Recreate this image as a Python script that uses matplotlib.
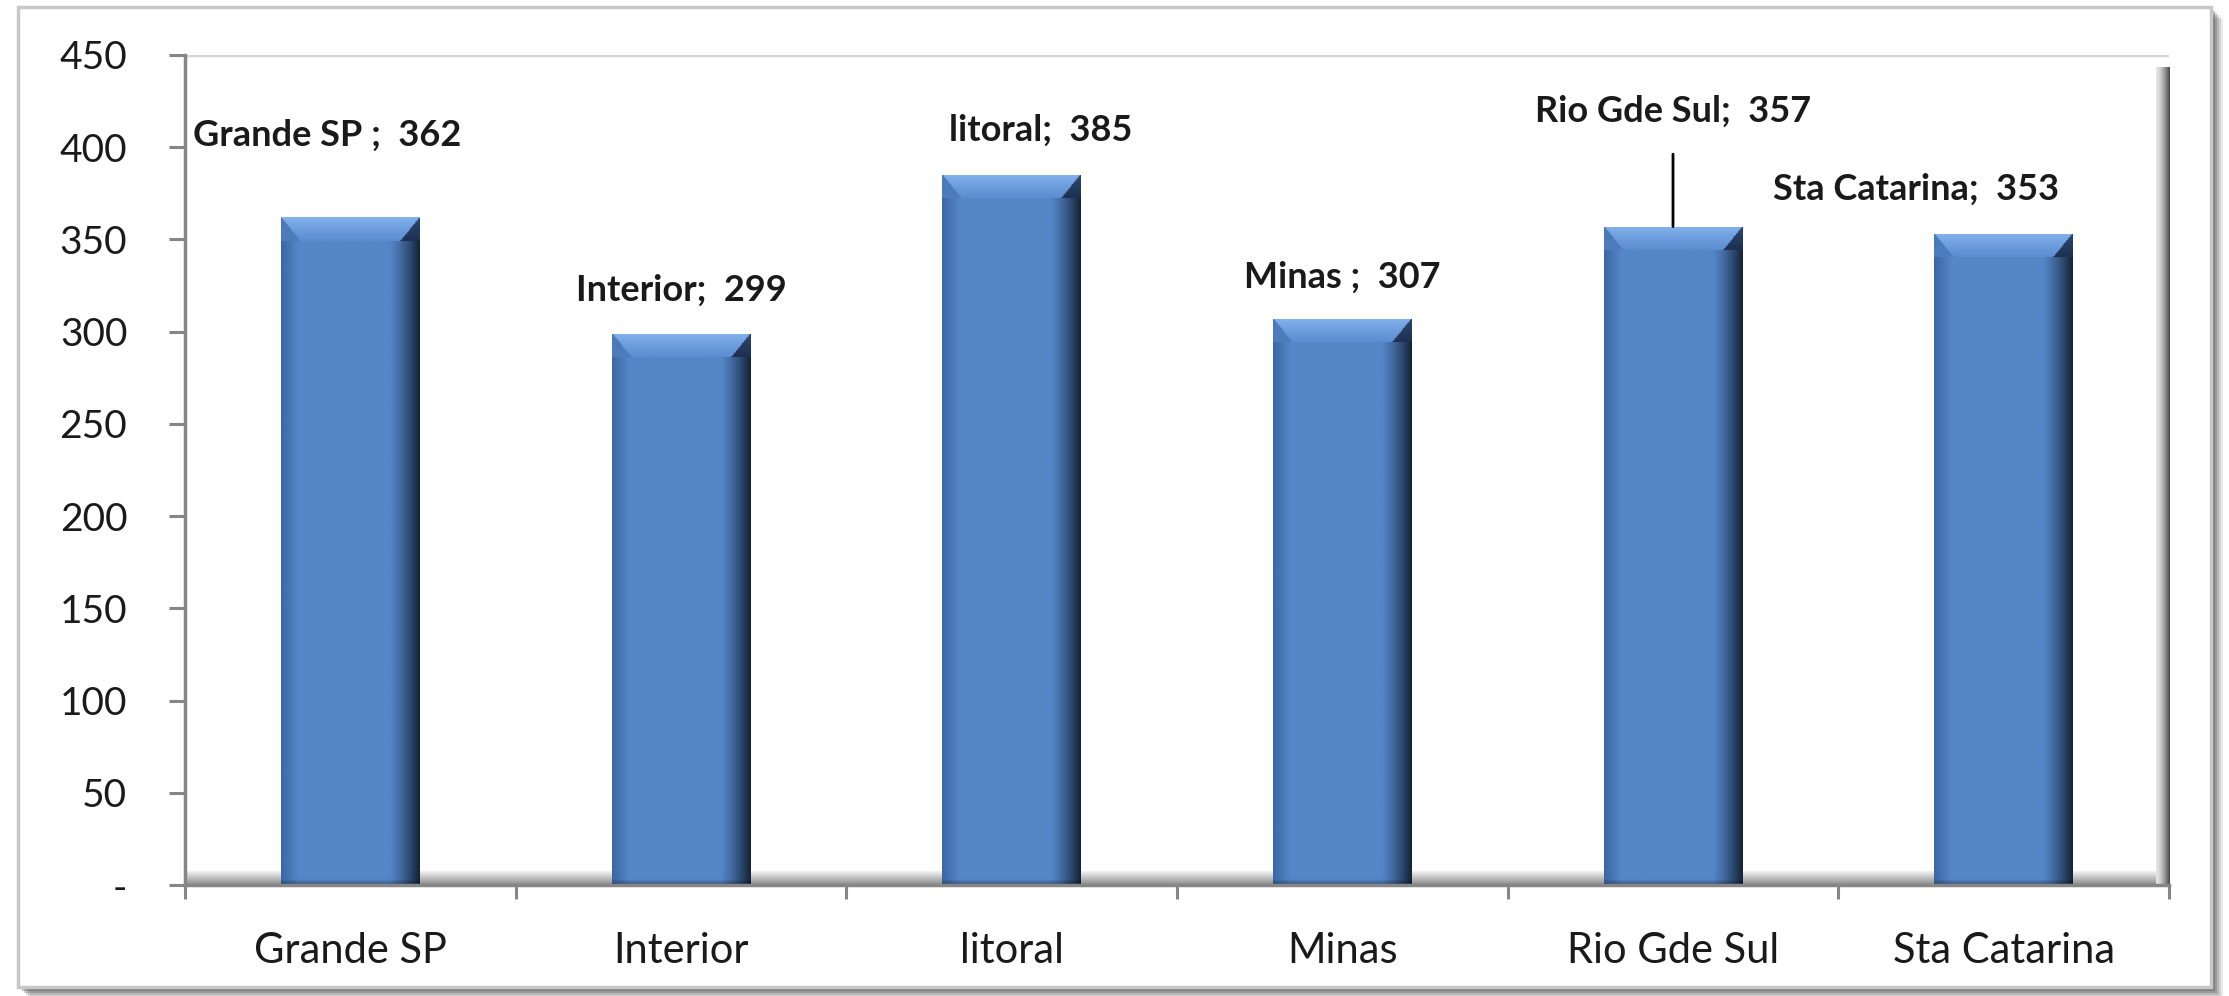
"""Bar chart: values by region (Grande SP, Interior, litoral, ...)."""

import matplotlib

matplotlib.use("Agg")

import matplotlib.pyplot as plt
import numpy as np
from matplotlib.colors import to_rgb
from matplotlib.patches import Rectangle


categories = ["Grande SP", "Interior", "litoral", "Minas", "Rio Gde Sul", "Sta Catarina"]
label_names = ["Grande SP ", "Interior", "litoral", "Minas ", "Rio Gde Sul", "Sta Catarina"]
values = [362, 299, 385, 307, 357, 353]
y_ticks = [0, 50, 100, 150, 200, 250, 300, 350, 400, 450]
y_tick_labels = ["-", "50", "100", "150", "200", "250", "300", "350", "400", "450"]

# data label offsets (points) from the top centre of each bar
label_offsets = [(-17, 59), (0, 31), (21, 32), (0, 30), (0, 83), (-63, 32)]
leader_line = [False, False, False, False, True, False]

FONT = ["Lato", "DejaVu Sans"]
TEXT_COLOR = "#1a1a1a"
AXIS_COLOR = "#868686"


def mix(c1, c2, t):
    a = np.array(to_rgb(c1))
    b = np.array(to_rgb(c2))
    return a + (b - a) * t


def bar_image(height_units, bevel_units=13.0, cols=120):
    """RGB image for a bevelled bar, rows from top to bottom."""
    rows = max(int(height_units * 2), 2)
    img = np.zeros((rows, cols, 3))
    u = np.linspace(0, 1, cols)
    base = np.array(to_rgb("#5586c8"))
    profile = np.tile(base, (cols, 1))
    left = u < 0.12
    profile[left] = [mix("#3c67a3", "#5586c8", t) for t in u[left] / 0.12]
    right = u > 0.78
    profile[right] = [mix("#5586c8", "#142338", t) for t in ((u[right] - 0.78) / 0.22) ** 1.3]
    img[:] = profile
    bevel_rows = int(bevel_units * 2)
    corner = 0.14
    for r in range(min(bevel_rows, rows)):
        t = r / bevel_rows
        lo = corner * t
        hi = 1 - corner * t
        mask = (u >= lo) & (u <= hi)
        light = mix("#86b4ee", "#5a8cd0", t ** 0.8)
        img[r, mask] = light
        img[r, ~mask & (u < 0.5)] = mix("#4a78b8", "#4d7dbd", t)
        img[r, ~mask & (u >= 0.5)] = mix("#2a4670", "#1c3050", t)
    # darker bottom edge
    bottom_rows = 6
    for k in range(min(bottom_rows, rows)):
        t = 1 - k / bottom_rows
        img[rows - 1 - k] = img[rows - 1 - k] * (1 - 0.35 * t)
    return np.clip(img, 0, 1)


def main() -> None:
    fig = plt.figure(figsize=(22.29, 9.96), dpi=100)
    fig.patch.set_facecolor("white")

    # outer chart frame with soft shadow (right and bottom)
    W, H = 2229.0, 996.0
    fx0, fy0, fx1, fy1 = 18 / W, 1 - 987 / H, 2211 / W, 1 - 7 / H
    for i, alpha in enumerate([0.10, 0.14, 0.18, 0.24, 0.30]):
        off = (12 - 2 * i)
        fig.patches.append(Rectangle((fx0 + off / W, fy0 - off / H), fx1 - fx0, fy1 - fy0,
                                     transform=fig.transFigure, facecolor="#404040",
                                     edgecolor="none", alpha=alpha, zorder=-3))
    fig.patches.append(Rectangle((fx0, fy0), fx1 - fx0, fy1 - fy0, transform=fig.transFigure,
                                 facecolor="white", edgecolor="#c8c8c8", linewidth=2.5, zorder=-2))

    ax = fig.add_axes([185 / W, 1 - 885 / H, (2169 - 185) / W, (885 - 55) / H])
    ax.set_facecolor("none")
    x = np.arange(len(categories))
    ax.set_xlim(-0.5, len(categories) - 0.5)
    ax.set_ylim(0, 450)

    # 3D-ish floor and walls
    floor = np.array([mix("#f2f2f2", "#8c8c8c", t) for t in np.linspace(0, 1, 20)])[:, None, :]
    ax.imshow(floor, extent=(-0.5, len(categories) - 0.5, 0, 7.5), aspect="auto",
              zorder=1, interpolation="bilinear")
    wall = np.array([mix("#e6e6e6", "#4a4a4a", t) for t in np.linspace(0, 1, 20) ** 1.5])[None, :, :]
    ax.imshow(wall, extent=(len(categories) - 0.5 - 0.04, len(categories) - 0.5, 0, 443),
              aspect="auto", zorder=1, interpolation="bilinear")
    ax.plot([-0.5, len(categories) - 0.5], [450, 450], color="#d6d6d6", lw=2.5, zorder=1)

    bars = ax.bar(x, values, width=0.42, color="#5586c8", zorder=3)
    for rect in bars:
        x0 = rect.get_x()
        w = rect.get_width()
        h = rect.get_height()
        im = ax.imshow(bar_image(h), extent=(x0, x0 + w, 0, h), aspect="auto",
                       zorder=4, interpolation="bilinear")
        im.set_clip_path(rect)

    for rect, name, val, (dx, dy), lead in zip(bars, label_names, values, label_offsets, leader_line):
        cx = rect.get_x() + rect.get_width() / 2
        top = rect.get_height()
        ax.annotate(f"{name};  {val}", xy=(cx, top), xytext=(dx, dy),
                    textcoords="offset points", ha="center", va="center",
                    fontsize=26, fontweight="bold", family=FONT, color=TEXT_COLOR, zorder=6,
                    arrowprops=dict(arrowstyle="-", color="black", lw=2, shrinkA=17, shrinkB=0)
                    if lead else None)

    for side in ["top", "right"]:
        ax.spines[side].set_visible(False)
    for side in ["left", "bottom"]:
        ax.spines[side].set_color(AXIS_COLOR)
        ax.spines[side].set_linewidth(2.5)
        ax.spines[side].set_zorder(5)

    ax.set_yticks(y_ticks)
    ax.set_yticklabels(y_tick_labels, family=FONT, fontsize=28, color=TEXT_COLOR)
    ax.tick_params(axis="y", direction="out", length=11.5, width=2.2, color=AXIS_COLOR, pad=30)

    ax.set_xticks(x)
    ax.set_xticklabels(categories, family=FONT, fontsize=30, color=TEXT_COLOR)
    ax.tick_params(axis="x", which="major", length=0, pad=34)
    ax.set_xticks(np.arange(-0.5, len(categories)), minor=True)
    ax.tick_params(axis="x", which="minor", direction="out", length=10, width=2.2, color=AXIS_COLOR)

    fig.savefig("out.png", dpi=100)
    plt.close(fig)


if __name__ == "__main__":
    main()
